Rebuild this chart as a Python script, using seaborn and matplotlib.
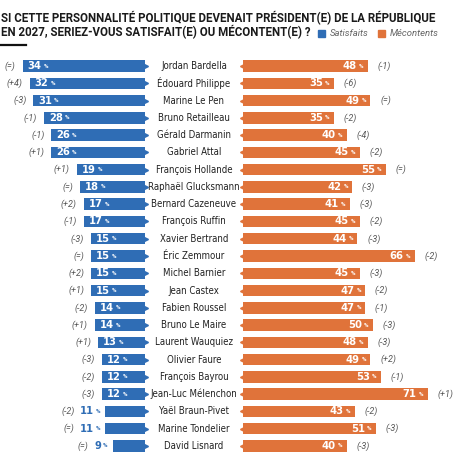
import matplotlib
matplotlib.use("Agg")
import matplotlib.pyplot as plt
import matplotlib.transforms as mtransforms
import seaborn as sns
import pandas as pd

names = ["Jordan Bardella", "Édouard Philippe", "Marine Le Pen", "Bruno Retailleau",
         "Gérald Darmanin", "Gabriel Attal", "François Hollande", "Raphaël Glucksmann",
         "Bernard Cazeneuve", "François Ruffin", "Xavier Bertrand", "Éric Zemmour",
         "Michel Barnier", "Jean Castex", "Fabien Roussel", "Bruno Le Maire",
         "Laurent Wauquiez", "Olivier Faure", "François Bayrou", "Jean-Luc Mélenchon",
         "Yaël Braun-Pivet", "Marine Tondelier", "David Lisnard"]
satisfaits = [34, 32, 31, 28, 26, 26, 19, 18, 17, 17, 15, 15, 15, 15, 14, 14, 13, 12, 12, 12, 11, 11, 9]
sat_change = ["(=)", "(+4)", "(-3)", "(-1)", "(-1)", "(+1)", "(+1)", "(=)", "(+2)", "(-1)", "(-3)", "(=)",
              "(+2)", "(+1)", "(-2)", "(+1)", "(+1)", "(-3)", "(-2)", "(-3)", "(-2)", "(=)", "(=)"]
mecontents = [48, 35, 49, 35, 40, 45, 55, 42, 41, 45, 44, 66, 45, 47, 47, 50, 48, 49, 53, 71, 43, 51, 40]
mec_change = ["(-1)", "(-6)", "(=)", "(-2)", "(-4)", "(-2)", "(=)", "(-3)", "(-3)", "(-2)", "(-3)", "(-2)",
              "(-3)", "(-2)", "(-1)", "(-3)", "(-3)", "(+2)", "(-1)", "(+1)", "(-2)", "(-3)", "(-3)"]

df = pd.DataFrame({"nom": names, "sat": satisfaits, "mec": mecontents})

BLUE = "#2f6db5"
ORANGE = "#e0733a"

W, H = 460, 467
fig = plt.figure(figsize=(W / 100, H / 100), dpi=100)
plt.rcParams["font.family"] = ["Roboto", "DejaVu Sans"]

top, bot = 57.4, 454.6
axL = fig.add_axes([1 / W, 1 - bot / H, 144 / W, (bot - top) / H])
axR = fig.add_axes([243 / W, 1 - bot / H, 217 / W, (bot - top) / H])

sns.barplot(data=df, x="sat", y="nom", ax=axL, color=BLUE, width=0.66, saturation=1)
sns.barplot(data=df, x="mec", y="nom", ax=axR, color=ORANGE, width=0.66, saturation=1)
axL.set_xlim(40, 0)
axR.set_xlim(0, 217 / 2.6)
for ax in (axL, axR):
    ax.set_ylim(len(names) - 0.5, -0.5)
    ax.axis("off")

# small arrow tips toward the centre
ypos = list(range(len(names)))
axL.plot([0] * len(ypos), ypos, ls="none", marker=">", ms=4, color=BLUE, clip_on=False)
axR.plot([0] * len(ypos), ypos, ls="none", marker="<", ms=4, color=ORANGE, clip_on=False)

NUM = dict(fontsize=8, fontweight="heavy", family=["DejaVu Sans"], fontstretch="condensed")
PCT = dict(fontsize=4.5, fontweight="bold")
CHG = dict(color="#555555", fontsize=6.5, style="italic")

for i, (s, sc, m, mc) in enumerate(zip(satisfaits, sat_change, mecontents, mec_change)):
    if s >= 12:
        t = axL.annotate(str(s), xy=(s, i), xytext=(3.5, 0), textcoords="offset points",
                         ha="left", va="center", color="white", **NUM)
        axL.annotate("%", xy=(1, 0.5), xycoords=t, xytext=(1.5, 0), textcoords="offset points",
                     ha="left", va="center", color="white", **PCT)
        axL.annotate(sc, xy=(s, i), xytext=(-5, 0), textcoords="offset points",
                     ha="right", va="center", **CHG)
    else:
        p = axL.annotate("%", xy=(s, i), xytext=(-3.5, 0), textcoords="offset points",
                         ha="right", va="center", color=BLUE, **PCT)
        t = axL.annotate(str(s), xy=(0, 0.5), xycoords=p, xytext=(-1.5, 0), textcoords="offset points",
                         ha="right", va="center", color=BLUE, **NUM)
        axL.annotate(sc, xy=(0, 0.5), xycoords=t, xytext=(-4, 0), textcoords="offset points",
                     ha="right", va="center", **CHG)

    p = axR.annotate("%", xy=(m, i), xytext=(-3, 0), textcoords="offset points",
                     ha="right", va="center", color="white", **PCT)
    axR.annotate(str(m), xy=(0, 0.5), xycoords=p, xytext=(-1.5, 0), textcoords="offset points",
                 ha="right", va="center", color="white", **NUM)
    axR.annotate(mc, xy=(m, i), xytext=(7, 0), textcoords="offset points",
                 ha="left", va="center", **CHG)

# names in the middle
trans = mtransforms.blended_transform_factory(fig.transFigure, axR.transData)
for i, n in enumerate(names):
    axR.text(194 / W, i, n, transform=trans, ha="center", va="center",
             fontsize=6.9, color="#222222", clip_on=False,
             family=["DejaVu Sans"], fontstretch="condensed")

# title
fig.text(1 / W, 1 - 18 / H, "SI CETTE PERSONNALITÉ POLITIQUE DEVENAIT PRÉSIDENT(E) DE LA RÉPUBLIQUE",
         ha="left", va="center", fontsize=8.3, fontweight="bold", color="#1a1a1a")
fig.text(1 / W, 1 - 32.5 / H, "EN 2027, SERIEZ-VOUS SATISFAIT(E) OU MÉCONTENT(E) ?",
         ha="left", va="center", fontsize=8.3, fontweight="bold", color="#1a1a1a")
fig.add_artist(plt.Line2D([0, 26 / W], [1 - 45 / H, 1 - 45 / H], color="#111111", lw=1.6))

# legend
fig.patches.append(plt.Rectangle((318 / W, 1 - 37 / H), 7 / W, 7 / H, color=BLUE,
                                 transform=fig.transFigure, figure=fig))
fig.text(330 / W, 1 - 33.5 / H, "Satisfaits", ha="left", va="center", fontsize=6.8,
         style="italic", color="#666666")
fig.patches.append(plt.Rectangle((378 / W, 1 - 37 / H), 7 / W, 7 / H, color=ORANGE,
                                 transform=fig.transFigure, figure=fig))
fig.text(390 / W, 1 - 33.5 / H, "Mécontents", ha="left", va="center", fontsize=6.8,
         style="italic", color="#666666")

fig.savefig("out.png", dpi=100)
